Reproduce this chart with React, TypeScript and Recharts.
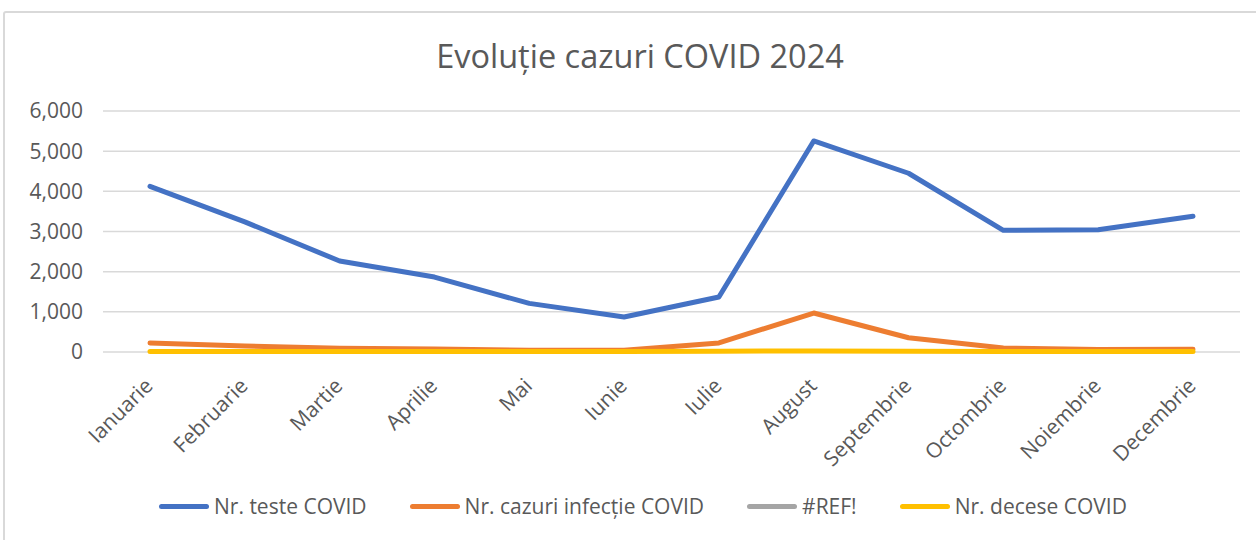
import { LineChart, Line, XAxis, YAxis, CartesianGrid } from 'recharts'

const months = [
  'Ianuarie', 'Februarie', 'Martie', 'Aprilie', 'Mai', 'Iunie',
  'Iulie', 'August', 'Septembrie', 'Octombrie', 'Noiembrie', 'Decembrie',
]
const teste = [4125, 3240, 2265, 1865, 1210, 870, 1370, 5255, 4450, 3030, 3045, 3380]
const cazuri = [225, 150, 95, 75, 45, 45, 225, 970, 355, 100, 65, 70]
const refErr: (number | null)[] = months.map(() => null)
const decese = [15, 15, 15, 15, 15, 15, 20, 25, 20, 15, 15, 15]
const yTicks = [0, 1000, 2000, 3000, 4000, 5000, 6000]

const series = [
  { key: 'teste', name: 'Nr. teste COVID', color: '#4472c4', values: teste },
  { key: 'cazuri', name: 'Nr. cazuri infecție COVID', color: '#ed7d31', values: cazuri },
  { key: 'ref', name: '#REF!', color: '#a5a5a5', values: refErr },
  { key: 'decese', name: 'Nr. decese COVID', color: '#ffc000', values: decese },
]

const data = months.map((m, i) => {
  const row: Record<string, string | number | null> = { month: m }
  series.forEach((s) => {
    row[s.key] = s.values[i]
  })
  return row
})

const FONT = '"Open Sans", sans-serif'
const TEXT = '#595959'

const MonthTick = (props: any) => {
  const { x, y, payload } = props
  return (
    <g transform={`translate(${x - 1},${y + 22})`}>
      <text
        transform="rotate(-45)"
        textAnchor="end"
        dy="0.35em"
        fill={TEXT}
        fontSize={21}
        fontFamily={FONT}
      >
        {payload.value}
      </text>
    </g>
  )
}

export default function App() {
  return (
    <div style={{ position: 'absolute', left: 0, top: 0, width: 1256, height: 540, overflow: 'hidden', background: '#fff' }}>
      <div
        style={{
          position: 'absolute',
          left: 3,
          top: 11,
          width: 1260,
          height: 540,
          boxSizing: 'border-box',
          border: '2px solid #d9d9d9',
          borderRadius: 3,
        }}
      />
      <div
        style={{
          position: 'absolute',
          top: 33,
          left: 12,
          width: 1256,
          textAlign: 'center',
          fontFamily: FONT,
          fontSize: 32.5,
          color: TEXT,
        }}
      >
        Evoluție cazuri COVID 2024
      </div>
      <div style={{ position: 'absolute', left: 0, top: 0 }}>
        <LineChart
          width={1256}
          height={540}
          data={data}
          margin={{ top: 111, right: 16, left: 0, bottom: 68 }}
        >
          <CartesianGrid vertical={false} stroke="#d9d9d9" strokeWidth={1.5} />
          <XAxis
            dataKey="month"
            axisLine={false}
            tickLine={false}
            interval={0}
            height={120}
            padding={{ left: 47, right: 47 }}
            tick={<MonthTick />}
          />
          <YAxis
            width={103}
            domain={[0, 6000]}
            ticks={yTicks}
            axisLine={false}
            tickLine={false}
            tickMargin={14}
            tickFormatter={(v: number) => v.toLocaleString('en-US')}
            tick={{ fill: TEXT, fontSize: 21, fontFamily: FONT }}
          />
          {series.map((s) => (
            <Line
              key={s.key}
              dataKey={s.key}
              name={s.name}
              stroke={s.color}
              strokeWidth={5}
              strokeLinecap="round"
              strokeLinejoin="round"
              dot={false}
              activeDot={false}
              isAnimationActive={false}
            />
          ))}
        </LineChart>
      </div>
      <div
        style={{
          position: 'absolute',
          top: 492,
          left: 15,
          width: 1256,
          display: 'flex',
          justifyContent: 'center',
          gap: 43,
          fontFamily: FONT,
          fontSize: 21,
          color: TEXT,
        }}
      >
        {series.map((s) => (
          <div key={s.key} style={{ display: 'flex', alignItems: 'center' }}>
            <span
              style={{
                display: 'inline-block',
                width: 50,
                height: 5,
                borderRadius: 3,
                background: s.color,
                marginRight: 5,
              }}
            />
            <span>{s.name}</span>
          </div>
        ))}
      </div>
    </div>
  )
}
